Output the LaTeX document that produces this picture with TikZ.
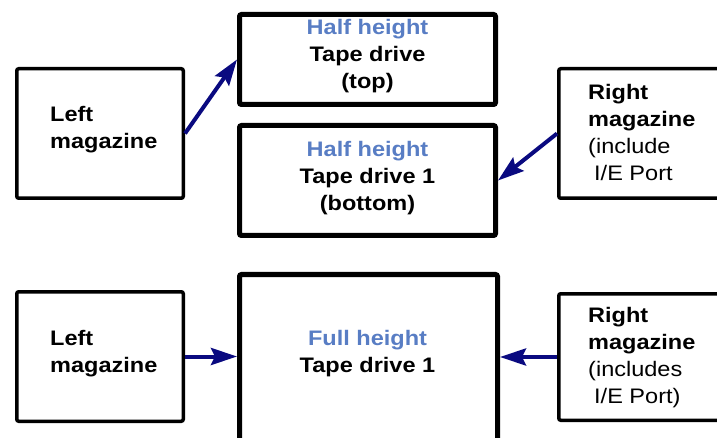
\documentclass[tikz,border=0pt]{standalone}
\usepackage{fontspec}
\setmainfont{Liberation Sans}[FakeStretch=1.12]
\usetikzlibrary{arrows.meta}
\definecolor{hdblue}{RGB}{88,125,196}
\definecolor{arrnavy}{RGB}{10,10,128}
\tikzset{
  drivebox/.style={draw, line width=5pt, rounded corners=2pt, inner sep=0pt},
  magbox/.style={draw, line width=3.5pt, rounded corners=2pt, inner sep=0pt},
  lbl/.style={inner sep=0pt, font=\fontsize{21}{27}\selectfont},
  link/.style={draw=arrnavy, line width=4pt, -{Stealth[length=26pt,width=17pt,inset=4pt]}},
}
\begin{document}
\begin{tikzpicture}[x=1pt,y=-1pt]
\useasboundingbox (0,0) rectangle (717,438);
\fill[white] (0,0) rectangle (717,438);
\clip (0,0) rectangle (717,438);
% boxes, upper arrangement
\node[magbox, minimum width=166.5pt, minimum height=129.5pt] (lmagA) at (100,133.5) {};
\node[drivebox, minimum width=256pt, minimum height=90pt] (topdrv) at (367.5,59.5) {};
\node[drivebox, minimum width=256pt, minimum height=110pt] (botdrv) at (367.5,180.5) {};
\node[magbox, minimum width=211.25pt, minimum height=129.5pt] (rmagA) at (664.4,133.5) {};
% boxes, lower arrangement
\node[magbox, minimum width=166.5pt, minimum height=129.5pt] (lmagB) at (100,356.5) {};
\node[drivebox, minimum width=258pt, minimum height=195.5pt] (fulldrv) at (368.5,372.25) {};
\node[magbox, minimum width=211.25pt, minimum height=126.5pt] (rmagB) at (664.4,357) {};
% texts
\node[lbl, anchor=base west] (lmagAt) at (50,122) {\bfseries\begin{tabular}[t]{@{}l@{}}Left\\magazine\end{tabular}};
\node[lbl, anchor=base] (topdrvt) at (367.5,35) {\bfseries\begin{tabular}[t]{@{}c@{}}{\color{hdblue}Half height}\\Tape drive\\(top)\end{tabular}};
\node[lbl, anchor=base] (botdrvt) at (367.5,157) {\bfseries\begin{tabular}[t]{@{}c@{}}{\color{hdblue}Half height}\\Tape drive 1\\(bottom)\end{tabular}};
\node[lbl, anchor=base west] (rmagAt) at (588,100) {\begin{tabular}[t]{@{}l@{}}\textbf{Right}\\\textbf{magazine}\\(include\\\hspace{6pt}I/E Port\end{tabular}};
\node[lbl, anchor=base west] (lmagBt) at (50,345) {\bfseries\begin{tabular}[t]{@{}l@{}}Left\\magazine\end{tabular}};
\node[lbl, anchor=base] (fulldrvt) at (367.5,345) {\bfseries\begin{tabular}[t]{@{}c@{}}{\color{hdblue}Full height}\\Tape drive 1\end{tabular}};
\node[lbl, anchor=base west] (rmagBt) at (588,322) {\begin{tabular}[t]{@{}l@{}}\textbf{Right}\\\textbf{magazine}\\(includes\\\hspace{6pt}I/E Port)\end{tabular}};
% connectors
\draw[link] (lmagA.east) -- (topdrv.west);
\draw[link] (rmagA.west) -- (botdrv.east);
\draw[link] (lmagB.east) -- (lmagB.east -| fulldrv.west);
\draw[link] (rmagB.west) -- (rmagB.west -| fulldrv.east);
\end{tikzpicture}
\end{document}
